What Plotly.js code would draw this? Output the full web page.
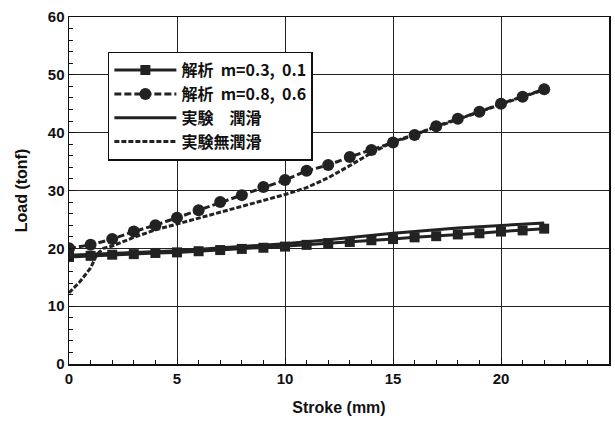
<!DOCTYPE html>
<html>
<head>
<meta charset="utf-8">
<script src="https://cdn.plot.ly/plotly-3.0.1.min.js"></script>
<style>html,body{margin:0;padding:0;background:#fff;}#chart{width:615px;height:425px;}</style>
</head>
<body>
<div id="chart"></div>
<script>
// Data
const stroke = [0,1,2,3,4,5,6,7,8,9,10,11,12,13,14,15,16,17,18,19,20,21,22];
const anaLow = [18.5,18.7,18.9,19.0,19.2,19.3,19.5,19.7,19.9,20.1,20.3,20.6,20.9,21.1,21.4,21.6,21.9,22.1,22.4,22.6,22.9,23.1,23.4];
const anaHigh = [20.0,20.6,21.6,22.9,24.0,25.3,26.6,28.0,29.2,30.6,31.8,33.4,34.4,35.8,37.0,38.3,39.6,41.1,42.4,43.6,45.0,46.2,47.5];
const expLubX = [0,1,2,3,5,8,10,12,15,18,20,22];
const expLubY = [18.8,19.0,19.1,19.3,19.6,20.3,20.8,21.5,22.6,23.5,24.0,24.4];
const expDryX = [0,0.5,1,1.3,1.6,2,3,4,5,6,7,8,9,10,11,12,13,14,15,16,17,18,19,20,21,22];
const expDryY = [12.3,14.2,16.6,19.0,20.0,20.4,21.9,23.2,24.2,25.2,26.3,27.2,28.2,29.3,30.5,32.2,34.3,36.5,38.4,39.7,41.1,42.4,43.6,45.0,46.2,47.4];
const names = ["解析\u00a0\u00a0m=0.3,\u00a0\u00a00.1","解析\u00a0\u00a0m=0.8,\u00a0\u00a00.6","実験　潤滑","実験無潤滑"];

const ink = "#222";
const traces = [
  {x: stroke, y: anaLow, name: names[0], mode: "lines+markers",
   line: {color: ink, width: 3}, marker: {symbol: "square", size: 10, color: ink}},
  {x: stroke, y: anaHigh, name: names[1], mode: "lines+markers",
   line: {color: ink, width: 3, dash: "7px,3px"}, marker: {symbol: "circle", size: 12, color: ink}},
  {x: expLubX, y: expLubY, name: names[2], mode: "lines",
   line: {color: ink, width: 3}},
  {x: expDryX, y: expDryY, name: names[3], mode: "lines",
   line: {color: ink, width: 3, dash: "5px,2px"}}
];

const axFont = {family: "Liberation Sans, Arial, sans-serif", size: 15, color: "#111", weight: "bold"};
const titleFont = {family: "Liberation Sans, Arial, sans-serif", size: 16, color: "#111", weight: "bold"};
const layout = {
  width: 615, height: 425,
  margin: {l: 69, r: 6, t: 17, b: 61},
  paper_bgcolor: "#fff", plot_bgcolor: "#fff",
  showlegend: true,
  xaxis: {
    range: [0, 25], dtick: 5, tick0: 0,
    showline: true, mirror: true, linecolor: "#111", linewidth: 1.5,
    showgrid: true, gridcolor: "#222", gridwidth: 1,
    zeroline: false,
    ticks: "inside", ticklen: 6, tickcolor: "#111",
    minor: {dtick: 1, ticks: "inside", ticklen: 4, tickcolor: "#111", showgrid: false},
    tickfont: axFont,
    title: {text: "Stroke (mm)", font: titleFont, standoff: 16}
  },
  yaxis: {
    range: [0, 60], dtick: 10, tick0: 0,
    showline: true, mirror: true, linecolor: "#111", linewidth: 1.5,
    showgrid: true, gridcolor: "#222", gridwidth: 1,
    zeroline: false,
    ticks: "inside", ticklen: 6, tickcolor: "#111",
    minor: {dtick: 2, ticks: "inside", ticklen: 4, tickcolor: "#111", showgrid: false},
    tickfont: axFont,
    title: {text: "Load (tonf)", font: titleFont, standoff: 16}
  },
  legend: {
    x: 0.072, y: 0.9, xanchor: "left", yanchor: "top",
    bgcolor: "#fff", bordercolor: "#111", borderwidth: 1.5,
    itemwidth: 62, tracegroupgap: 0,
    font: {family: "Noto Sans CJK JP", size: 16, color: "#111", weight: "bold"}
  }
};

Plotly.newPlot("chart", traces, layout, {displayModeBar: false, staticPlot: true});
</script>
</body>
</html>
